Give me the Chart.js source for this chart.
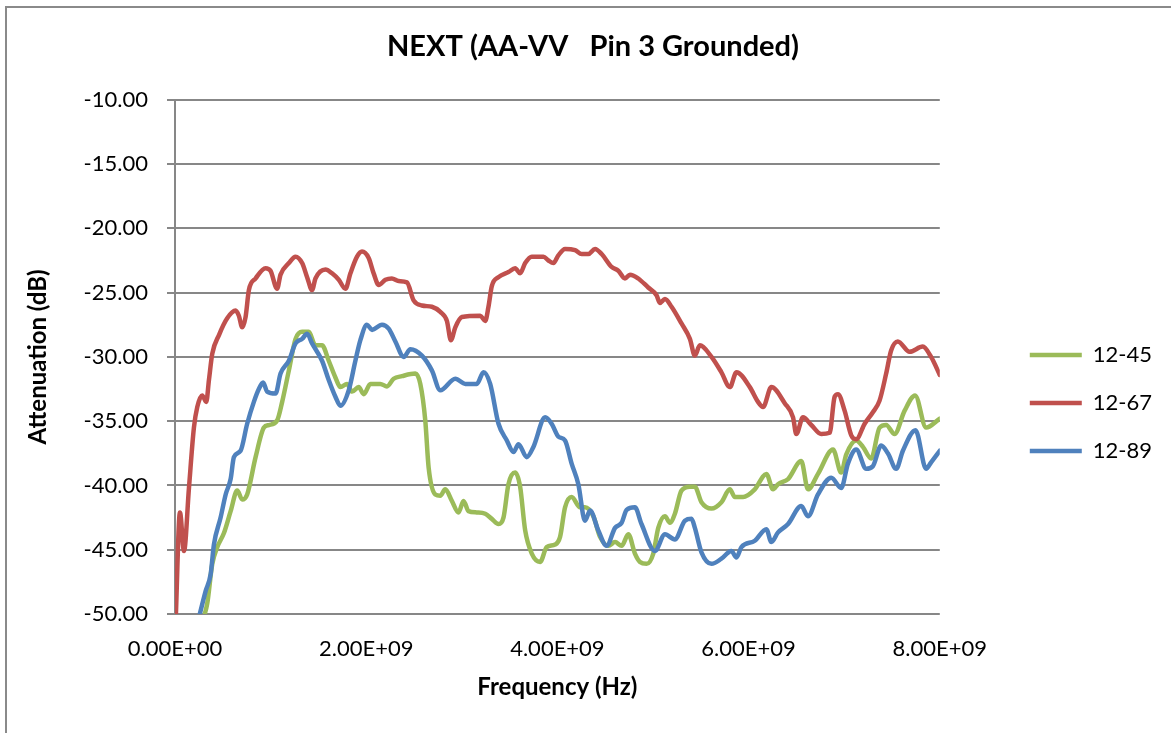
<!DOCTYPE html>
<html>
<head>
<meta charset="utf-8">
<title>NEXT (AA-VV Pin 3 Grounded)</title>
<script src="https://cdn.jsdelivr.net/npm/chart.js@4.4.1/dist/chart.umd.min.js"></script>
<style>
  html, body { margin: 0; padding: 0; background: #fff; overflow: hidden; }
  #frame { position: absolute; left: 5px; top: 6px; width: 1200px; height: 760px; border: 2px solid #8a8a8a; }
  #c { position: absolute; left: 0; top: 0; }
</style>
</head>
<body>
<div id="frame"></div>
<canvas id="c" width="1171" height="733"></canvas>
<script>
// frequencies in GHz, attenuation in dB
const freq45 = [0.29, 0.337, 0.390, 0.442, 0.512, 0.582, 0.651, 0.703, 0.755, 0.843,
  0.930, 0.982, 1.068, 1.121, 1.191, 1.261, 1.330, 1.399, 1.469, 1.538,
  1.608, 1.678, 1.731, 1.799, 1.852, 1.922, 1.974, 2.044, 2.148, 2.217,
  2.287, 2.374, 2.514, 2.566, 2.618, 2.653, 2.723, 2.775, 2.827, 2.896,
  2.966, 3.018, 3.070, 3.157, 3.245, 3.314, 3.384, 3.436, 3.488, 3.558,
  3.610, 3.663, 3.732, 3.819, 3.888, 3.976, 4.028, 4.080, 4.149, 4.237,
  4.289, 4.376, 4.446, 4.533, 4.603, 4.672, 4.742, 4.811, 4.864, 4.933,
  5.003, 5.055, 5.125, 5.177, 5.229, 5.298, 5.386, 5.438, 5.507, 5.612,
  5.716, 5.804, 5.856, 5.943, 6.065, 6.186, 6.256, 6.308, 6.413, 6.551,
  6.621, 6.726, 6.883, 6.969, 7.021, 7.126, 7.196, 7.282, 7.370, 7.439,
  7.527, 7.631, 7.742, 7.857, 8.0];
const att45 = [-50.5, -49.2, -46.1, -44.8, -43.7, -42.0, -40.4, -41.1, -40.7, -37.8,
  -35.5, -35.3, -34.95, -33.5, -31.05, -28.6, -28.05, -28.05, -29.1, -29.1,
  -30.3, -31.6, -32.35, -32.1, -32.7, -32.35, -32.9, -32.1, -32.1, -32.3,
  -31.7, -31.5, -31.3, -32.1, -34.95, -38.6, -40.7, -40.8, -40.3, -41.2,
  -42.1, -41.2, -42.0, -42.1, -42.2, -42.6, -43.0, -42.5, -39.9, -39.0,
  -40.1, -43.5, -45.3, -45.95, -44.8, -44.6, -44.0, -41.7, -40.9, -41.7,
  -41.7, -42.4, -44.0, -44.7, -44.4, -44.7, -43.8, -45.3, -45.95, -46.1,
  -45.3, -43.3, -42.4, -42.9, -42.2, -40.4, -40.1, -40.1, -41.3, -41.8,
  -41.3, -40.3, -40.9, -40.9, -40.3, -39.1, -40.3, -39.9, -39.5, -38.1,
  -40.3, -39.1, -37.2, -39.0, -37.6, -36.5, -37.0, -37.9, -35.5, -35.3,
  -36.0, -34.2, -33.0, -35.5, -34.8];

const freq67 = [0.005, 0.052, 0.094, 0.146, 0.198, 0.233, 0.285, 0.327, 0.355, 0.390,
  0.460, 0.546, 0.634, 0.668, 0.703, 0.738, 0.773, 0.843, 0.947, 0.999,
  1.068, 1.104, 1.191, 1.261, 1.330, 1.382, 1.434, 1.469, 1.574, 1.643,
  1.713, 1.783, 1.835, 1.904, 1.956, 2.026, 2.078, 2.131, 2.201, 2.269,
  2.339, 2.426, 2.496, 2.583, 2.687, 2.775, 2.844, 2.886, 2.932, 3.001,
  3.193, 3.245, 3.279, 3.314, 3.384, 3.488, 3.558, 3.610, 3.663, 3.732,
  3.854, 3.906, 3.958, 4.010, 4.080, 4.185, 4.254, 4.324, 4.394, 4.463,
  4.567, 4.637, 4.707, 4.759, 4.846, 4.950, 5.037, 5.072, 5.125, 5.194,
  5.298, 5.386, 5.438, 5.490, 5.612, 5.716, 5.804, 5.873, 6.013, 6.099,
  6.151, 6.238, 6.378, 6.465, 6.499, 6.569, 6.656, 6.760, 6.848, 6.900,
  6.935, 7.005, 7.074, 7.126, 7.214, 7.300, 7.370, 7.439, 7.491, 7.561,
  7.684, 7.822, 7.909, 8.0];
const att67 = [-51, -42.1, -45.1, -40.2, -35.5, -33.9, -33.0, -33.5, -31.8, -29.75,
  -28.3, -27.0, -26.4, -26.8, -27.7, -26.9, -24.8, -23.9, -23.1, -23.3,
  -24.7, -23.6, -22.7, -22.2, -22.7, -23.8, -24.8, -23.9, -23.2, -23.5,
  -24.0, -24.7, -23.5, -22.2, -21.8, -22.3, -23.5, -24.4, -24.0, -23.9,
  -24.1, -24.2, -25.6, -26.0, -26.1, -26.5, -27.2, -28.7, -27.7, -26.9,
  -26.8, -27.2, -26.1, -24.5, -23.8, -23.4, -23.1, -23.5, -22.7, -22.2,
  -22.2, -22.5, -22.7, -22.1, -21.6, -21.7, -22.0, -22.0, -21.6, -22.0,
  -23.0, -23.3, -23.9, -23.6, -23.9, -24.6, -25.2, -25.8, -25.5, -26.1,
  -27.4, -28.6, -29.9, -29.1, -30.0, -31.2, -32.35, -31.2, -32.35, -33.5,
  -33.9, -32.35, -33.6, -34.7, -36.0, -34.7, -35.3, -36.0, -35.9, -33.1,
  -32.9, -34.2, -36.1, -36.4, -35.2, -34.3, -33.4, -31.3, -29.5, -28.8,
  -29.6, -29.2, -30.0, -31.4];

const freq89 = [0.243, 0.321, 0.373, 0.407, 0.477, 0.530, 0.582, 0.616, 0.686, 0.755,
  0.825, 0.877, 0.922, 0.964, 1.052, 1.104, 1.191, 1.261, 1.330, 1.382,
  1.434, 1.538, 1.608, 1.678, 1.731, 1.817, 1.887, 1.939, 2.008, 2.061,
  2.165, 2.235, 2.305, 2.392, 2.462, 2.583, 2.687, 2.775, 2.932, 3.036,
  3.157, 3.227, 3.297, 3.384, 3.471, 3.541, 3.593, 3.679, 3.749, 3.872,
  3.940, 4.010, 4.080, 4.149, 4.219, 4.289, 4.342, 4.428, 4.515, 4.603,
  4.672, 4.724, 4.811, 4.880, 5.020, 5.125, 5.229, 5.334, 5.403, 5.438,
  5.507, 5.612, 5.716, 5.820, 5.873, 5.925, 6.065, 6.186, 6.238, 6.308,
  6.413, 6.551, 6.621, 6.726, 6.865, 6.969, 7.039, 7.126, 7.230, 7.300,
  7.387, 7.457, 7.544, 7.614, 7.746, 7.857, 7.909, 8.0];
const att89 = [-50.5, -48.2, -46.9, -44.6, -42.5, -40.7, -39.5, -37.8, -37.3, -35.2,
  -33.5, -32.5, -32.0, -32.7, -32.85, -31.3, -30.3, -28.95, -28.6, -28.2,
  -28.95, -30.3, -31.8, -33.1, -33.8, -32.6, -30.3, -28.7, -27.5, -27.9,
  -27.5, -27.8, -28.8, -30.0, -29.4, -29.9, -31.05, -32.6, -31.7, -32.1,
  -32.1, -31.2, -32.1, -35.2, -36.5, -37.4, -36.8, -37.8, -37.0, -34.7,
  -35.2, -36.2, -36.5, -38.3, -39.9, -42.75, -41.95, -43.5, -44.7, -43.3,
  -42.9, -41.9, -41.7, -43.0, -45.1, -43.8, -44.2, -42.75, -42.6, -43.3,
  -45.2, -46.1, -45.7, -45.1, -45.6, -44.8, -44.3, -43.4, -44.4, -43.65,
  -43.0, -41.6, -42.4, -40.7, -39.4, -40.2, -38.3, -37.2, -38.7, -38.5,
  -36.9, -37.5, -38.7, -37.3, -35.7, -38.7, -38.2, -37.3];

const seriesNames = ['12-45', '12-67', '12-89'];
const seriesColors = ['#9BBB59', '#C0504D', '#4F81BD'];
const yTicks = { min: -50, max: -10, step: 5 };
const xTicks = { min: 0, max: 8e9, step: 2e9 };

function toPoints(freqs, vals) {
  return freqs.map((f, i) => ({ x: f * 1e9, y: vals[i] }));
}

// 2e9 -> "2.00E+09"
function sci(v) {
  if (v === 0) return '0.00E+00';
  const e = Math.floor(Math.log10(Math.abs(v)));
  const m = v / Math.pow(10, e);
  return m.toFixed(2) + 'E' + (e < 0 ? '-' : '+') + String(Math.abs(e)).padStart(2, '0');
}

Chart.defaults.font.family = 'Lato, "Open Sans", sans-serif';
Chart.defaults.color = '#000';

const allSeries = [[freq45, att45], [freq67, att67], [freq89, att89]];
const datasets = allSeries.map((s, i) => ({
  label: seriesNames[i],
  data: toPoints(s[0], s[1]),
  borderColor: seriesColors[i],
  backgroundColor: seriesColors[i],
  borderWidth: 4.5,
  borderCapStyle: 'round',
  borderJoinStyle: 'round',
  pointRadius: 0,
  cubicInterpolationMode: 'monotone',
  order: allSeries.length - 1 - i,  // last series drawn on top, like Excel
  yAxisID: 'y'
}));

const gridColor = '#878787';

new Chart(document.getElementById('c'), {
  type: 'line',
  data: { datasets: datasets },
  options: {
    responsive: false,
    animation: false,
    layout: { padding: { left: 24, right: 9, top: 0, bottom: 0 } },
    plugins: {
      title: {
        display: true,
        text: 'NEXT (AA-VV   Pin 3 Grounded)',
        font: { size: 29, weight: 'bold' },
        padding: { top: 29, bottom: 36 }
      },
      legend: {
        position: 'right',
        // empty title only pushes the items down a bit
        title: { display: true, text: '', font: { size: 10 }, padding: { top: 30, bottom: 31 } },
        labels: {
          usePointStyle: true,
          pointStyle: 'line',
          pointStyleWidth: 52,
          padding: 26,
          font: { size: 22 },
          sort: (a, b) => a.datasetIndex - b.datasetIndex
        }
      },
      tooltip: { enabled: false }
    },
    scales: {
      x: {
        type: 'linear',
        min: xTicks.min,
        max: xTicks.max,
        ticks: { stepSize: xTicks.step, callback: sci, padding: 22, maxRotation: 0, font: { size: 22 } },
        grid: { display: false, drawTicks: false },
        border: { display: false },
        title: { display: true, text: 'Frequency (Hz)', font: { size: 24, weight: 'bold' }, padding: { top: 0, bottom: 31 } },
        afterFit: function(scale) { scale.height = 119; }
      },
      y: {
        min: yTicks.min,
        max: yTicks.max,
        ticks: { stepSize: yTicks.step, callback: v => v.toFixed(2), padding: 19, font: { size: 22 } },
        grid: { color: gridColor, lineWidth: 2, tickLength: 8 },
        border: { color: gridColor, width: 2 },
        title: { display: true, text: 'Attenuation (dB)', font: { size: 24, weight: 'bold' }, padding: { top: 0, bottom: 0 } },
        afterFit: function(scale) { scale.width = 151; }
      },
      gap: {
        position: 'right',
        display: true,
        ticks: { display: false },
        grid: { display: false, drawTicks: false },
        border: { display: false },
        afterFit: function(scale) { scale.width = 64; }
      }
    }
  }
});
</script>
</body>
</html>
